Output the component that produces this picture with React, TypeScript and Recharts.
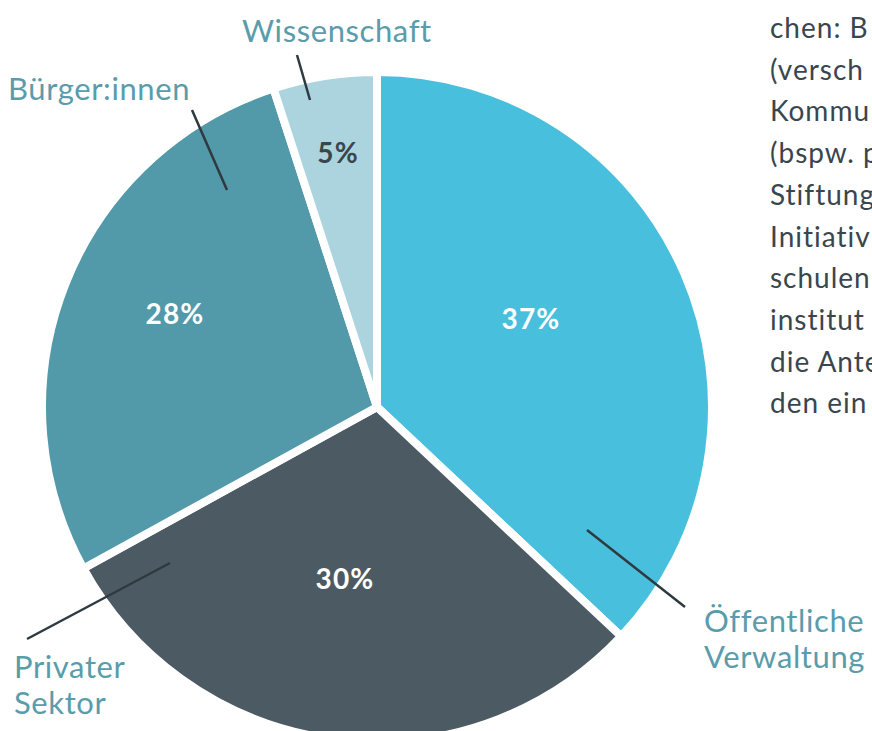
import React from "react";
import { PieChart, Pie, Cell } from "recharts";

// Akteursgruppen und Anteile (in %)
const categories = ["Öffentliche Verwaltung", "Privater Sektor", "Bürger:innen", "Wissenschaft"];
const shares = [37, 30, 28, 5];
const sliceColors = ["#47bfdd", "#4c5b63", "#5299a9", "#abd4df"];
const labelLines = [["Öffentliche", "Verwaltung"], ["Privater", "Sektor"], ["Bürger:innen"], ["Wissenschaft"]];

// abgeschnittener Fließtext rechts
const sideText = [
  "chen: B",
  "(versch",
  "Kommu",
  "(bspw. p",
  "Stiftung",
  "Initiativ",
  "schulen",
  "institut",
  "die Ante",
  "den ein",
];

const data = categories.map((name, i) => ({ name, value: shares[i] }));

const TEAL = "#5a9cab";
const DARK = "#2f3a40";
const FONT = "Lato, 'Open Sans', sans-serif";

// label layout, offsets from the pie centre
const layout = [
  { pct: [154, -89], line: [[210, 123], [308, 200]], text: [327, 225], pctColor: "#ffffff" },
  { pct: [-32, 171], line: [[-207, 156], [-350, 232]], text: [-363, 271], pctColor: "#ffffff" },
  { pct: [-202, -94], line: [[-150, -217], [-185, -297]], text: [-369, -307], pctColor: "#ffffff" },
  { pct: [-39, -255], line: [[-67, -307], [-80, -352]], text: [-135, -365], pctColor: "#3a464e" },
];

function renderLabel(props: any) {
  const { cx, cy, index } = props;
  const l = layout[index];
  return (
    <g key={`lbl-${index}`}>
      <line
        x1={cx + l.line[0][0]}
        y1={cy + l.line[0][1]}
        x2={cx + l.line[1][0]}
        y2={cy + l.line[1][1]}
        stroke={DARK}
        strokeWidth={2.5}
      />
      <text
        x={cx + l.pct[0]}
        y={cy + l.pct[1]}
        textAnchor="middle"
        dominantBaseline="central"
        fill={l.pctColor}
        fontFamily={FONT}
        fontWeight={700}
        fontSize={28}
        letterSpacing={1.2}
      >
        {shares[index]}%
      </text>
      {labelLines[index].map((t, j) => (
        <text
          key={j}
          x={cx + l.text[0]}
          y={cy + l.text[1] + j * 36}
          fill={TEAL}
          fontFamily={FONT}
          fontSize={31}
          letterSpacing={0.6}
        >
          {t}
        </text>
      ))}
    </g>
  );
}

export default function App() {
  return (
    <div
      style={{
        position: "absolute",
        left: 0,
        top: 0,
        width: 872,
        height: 731,
        overflow: "hidden",
        background: "#ffffff",
      }}
    >
      <PieChart width={872} height={731} margin={{ top: 0, right: 0, bottom: 0, left: 0 }}>
        <Pie
          data={data}
          dataKey="value"
          nameKey="name"
          cx={377}
          cy={407}
          outerRadius={335}
          startAngle={90}
          endAngle={-270}
          stroke="#ffffff"
          strokeWidth={8}
          label={renderLabel}
          labelLine={false}
          isAnimationActive={false}
        >
          {data.map((d, i) => (
            <Cell key={d.name} fill={sliceColors[i]} />
          ))}
        </Pie>
      </PieChart>
      <svg
        width={872}
        height={731}
        style={{ position: "absolute", left: 0, top: 0, pointerEvents: "none" }}
      >
        {sideText.map((t, i) => (
          <text
            key={i}
            x={770}
            y={38 + i * 41.7}
            fill="#3a464e"
            fontFamily={FONT}
            fontSize={28}
            letterSpacing={1}
          >
            {t}
          </text>
        ))}
      </svg>
    </div>
  );
}
